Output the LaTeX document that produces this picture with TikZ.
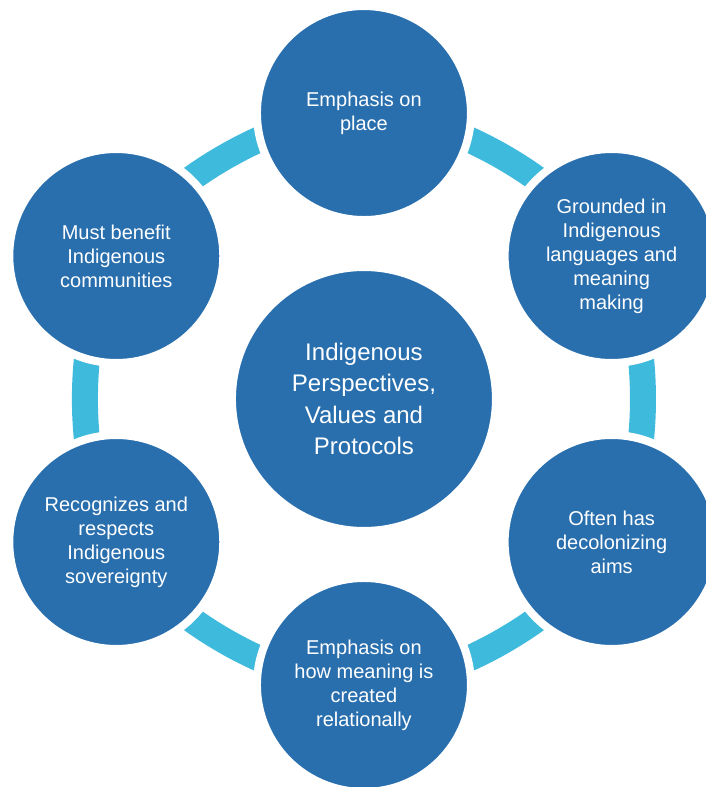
\documentclass[tikz,border=0pt]{standalone}
\usepackage{fontspec}
\setmainfont{Liberation Sans}
\usepackage{tkz-euclide}
\usetikzlibrary{backgrounds}
\definecolor{CircleClr}{rgb}{0.16,0.435,0.682}
\definecolor{BandClr}{rgb}{0.243,0.729,0.863}

\begin{document}
\begin{tikzpicture}[
  bubble/.style={circle,fill=CircleClr,draw=white,line width=6pt,minimum size=5.642cm,
    inner sep=0pt,text=white,align=center,font=\fontsize{15}{18}\selectfont},
  hub/.style={bubble,minimum size=6.96cm,font=\fontsize{18}{23.6}\selectfont},
  band/.style={BandClr,line width=19.5pt,bend right=30,looseness=.75}]
\useasboundingbox (-9.596,-10.23) rectangle (9.016,10.52);

\tkzDefPoints{0/0/O,0/7.54/P,6.53/3.77/G,6.53/-3.77/D,0/-7.54/R,-6.53/-3.77/S,-6.53/3.77/B}

\node[hub] (persp) at (O) {Indigenous\\Perspectives,\\Values and\\Protocols};

\node[bubble] (emph) at (P) {Emphasis on\\place};
\node[bubble] (ground) at (G) {Grounded in\\Indigenous\\languages and\\meaning\\making};
\node[bubble] (decol) at (D) {Often has\\decolonizing\\aims};
\node[bubble] (relat) at (R) {Emphasis on\\how meaning is\\created\\relationally};
\node[bubble] (sover) at (S) {Recognizes and\\respects\\Indigenous\\sovereignty};
\node[bubble] (benef) at (B) {Must benefit\\Indigenous\\communities};

\begin{pgfonlayer}{background}
\draw[band] (emph.center) to (benef.center);
\draw[band] (benef.center) to (sover.center);
\draw[band] (sover.center) to (relat.center);
\draw[band] (relat.center) to (decol.center);
\draw[band] (decol.center) to (ground.center);
\draw[band] (ground.center) to (emph.center);
\end{pgfonlayer}

\end{tikzpicture}
\end{document}
